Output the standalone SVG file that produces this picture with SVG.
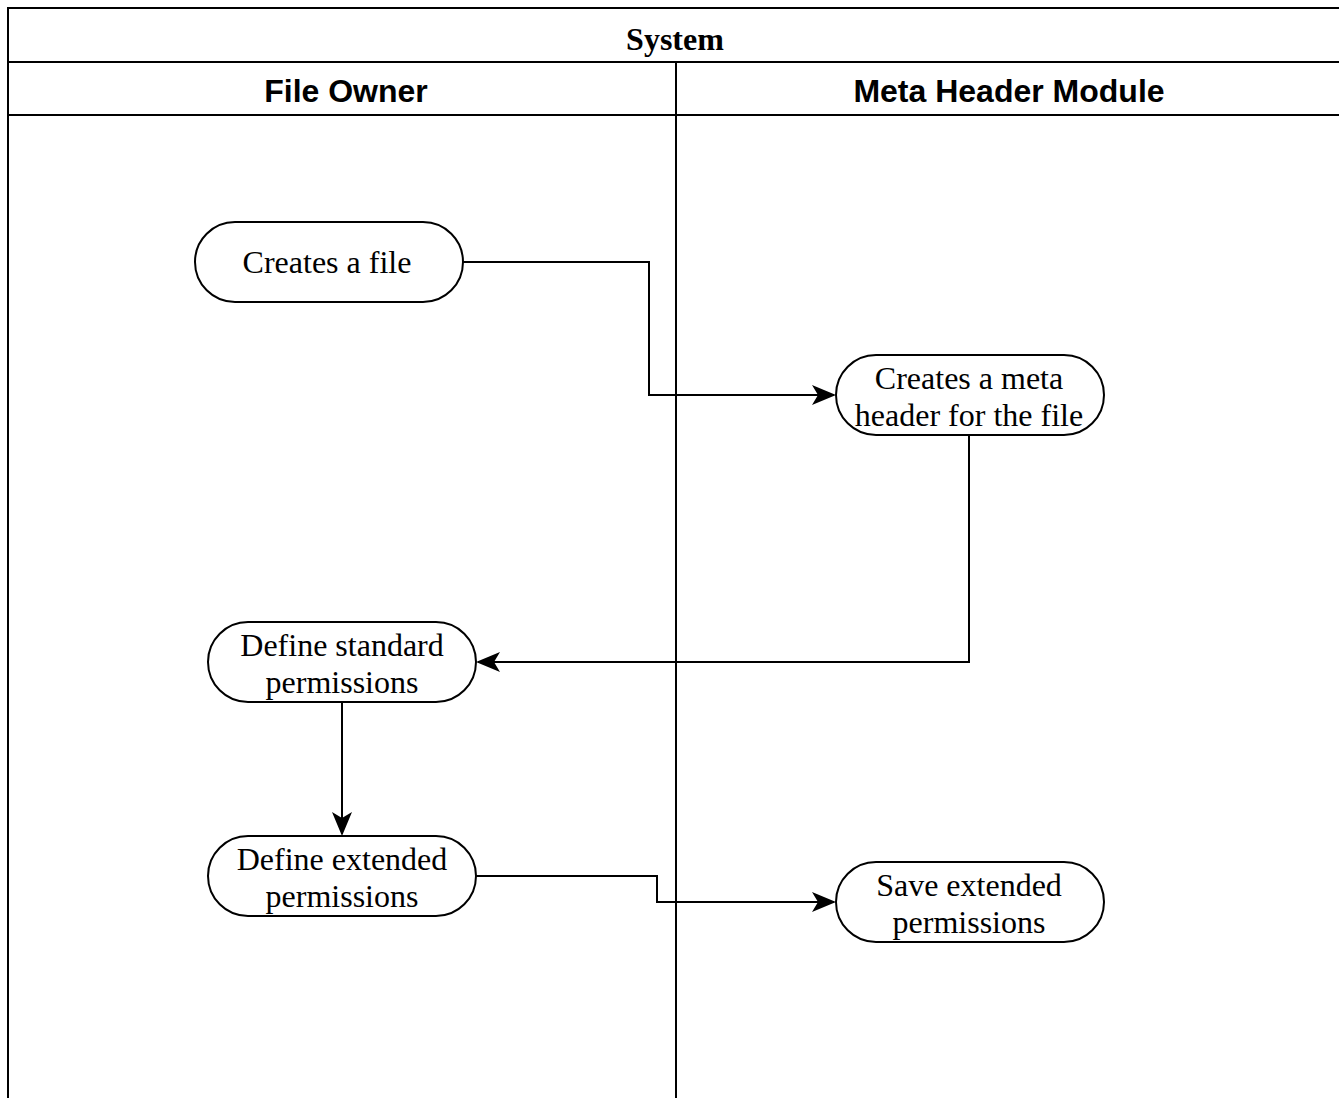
<svg xmlns="http://www.w3.org/2000/svg" width="1339" height="1098" viewBox="0 0 1339 1098">
<style>
.frame{fill:none;stroke:#000;stroke-width:2}
.node{fill:#fff;stroke:#000;stroke-width:2}
.t{font-family:"Liberation Serif",serif;font-size:32px;fill:#000;text-anchor:middle}
.tb{font-family:"Liberation Serif",serif;font-size:32px;font-weight:bold;fill:#000;text-anchor:middle}
.h{font-family:"Liberation Sans",Arial,sans-serif;font-size:32px;font-weight:bold;fill:#000;text-anchor:middle}
.edge{fill:none;stroke:#000;stroke-width:2}
</style>
<defs>
<marker id="arr" markerUnits="userSpaceOnUse" markerWidth="26" markerHeight="22" refX="22" refY="11" orient="auto">
<path d="M0,1 L24,11 L0,21 L6,11 Z" fill="#000"/>
</marker>
</defs>
<rect width="1339" height="1098" fill="#fff"/>
<g id="pool">
<rect class="frame" x="8" y="8" width="1340" height="1100"/>
<line class="frame" x1="8" y1="62" x2="1339" y2="62"/>
<line class="frame" x1="8" y1="115" x2="1339" y2="115"/>
<line class="frame" x1="676" y1="62" x2="676" y2="1098"/>
<text class="tb" x="675" y="50">System</text>
<text class="h" x="346" y="102">File Owner</text>
<text class="h" x="1009" y="102">Meta Header Module</text>
</g>
<g id="connectors">
<path class="edge" d="M463,262 H649 V395 H834" marker-end="url(#arr)"/>
<path class="edge" d="M969,435 V662 H478" marker-end="url(#arr)"/>
<path class="edge" d="M342,702 V834" marker-end="url(#arr)"/>
<path class="edge" d="M476,876 H657 V902 H834" marker-end="url(#arr)"/>
</g>
<g id="n1">
<rect class="node" x="195" y="222" width="268" height="80" rx="40" ry="40"/>
<text class="t" x="327" y="273">Creates a file</text>
</g>
<g id="n2">
<rect class="node" x="836" y="355" width="268" height="80" rx="40" ry="40"/>
<text class="t" x="969" y="389">Creates a meta</text>
<text class="t" x="969" y="426">header for the file</text>
</g>
<g id="n3">
<rect class="node" x="208" y="622" width="268" height="80" rx="40" ry="40"/>
<text class="t" x="342" y="656">Define standard</text>
<text class="t" x="342" y="693">permissions</text>
</g>
<g id="n4">
<rect class="node" x="208" y="836" width="268" height="80" rx="40" ry="40"/>
<text class="t" x="342" y="870">Define extended</text>
<text class="t" x="342" y="907">permissions</text>
</g>
<g id="n5">
<rect class="node" x="836" y="862" width="268" height="80" rx="40" ry="40"/>
<text class="t" x="969" y="896">Save extended</text>
<text class="t" x="969" y="933">permissions</text>
</g>
</svg>
